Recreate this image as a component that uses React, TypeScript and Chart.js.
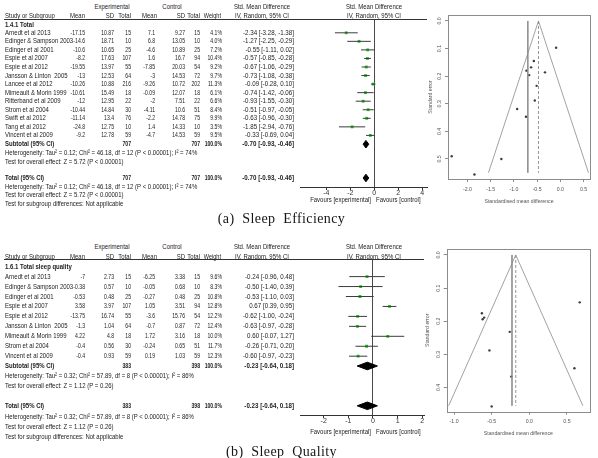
import React, { useEffect, useRef } from "react";
import { Chart, registerables } from "chart.js";

Chart.register(...registerables);

const SANS = '"Liberation Sans", Arial, Helvetica, sans-serif';
const SERIF = '"Liberation Serif", "Times New Roman", Times, serif';
const Z95 = 1.96;

/* ---------- (a) Sleep efficiency, subgroup 1.4.1 Total ---------- */
const effStudies = [
  "Arnedt et al 2013", "Edinger & Sampson 2003", "Edinger et al 2001", "Espie et al 2007",
  "Espie et al 2012", "Jansson & Linton  2005", "Lancee et al 2012", "Mimeault & Morin 1999",
  "Ritterband et al 2009", "Strom et al 2004", "Swift et al 2012", "Tang et al 2012", "Vincent et al 2009",
];
const effExpMean = [-17.15, -14.6, -10.6, -8.2, -19.55, -13, -10.26, -10.61, -12, -10.44, -11.14, -24.8, -9.2];
const effExpSD = [10.87, 18.71, 10.65, 17.63, 13.97, 12.53, 10.88, 15.49, 12.95, 14.84, 13.4, 12.75, 12.78];
const effExpN = [15, 10, 25, 107, 55, 64, 216, 18, 22, 30, 76, 10, 59];
const effCtlMean = [7.1, 6.8, -4.6, 1.6, -7.85, -3, -9.26, -0.09, -2, -4.11, -2.2, 1.4, -4.7];
const effCtlSD = [9.27, 13.05, 10.89, 16.7, 20.03, 14.53, 10.72, 12.07, 7.51, 10.6, 14.78, 14.33, 14.53];
const effCtlN = [15, 10, 25, 94, 54, 72, 202, 18, 22, 51, 75, 10, 59];
const effWeight = [4.1, 4.0, 7.2, 10.4, 9.2, 9.7, 11.3, 6.1, 6.6, 8.4, 9.9, 3.5, 9.5];
const effSMD = [-2.34, -1.27, -0.55, -0.57, -0.67, -0.73, -0.09, -0.74, -0.93, -0.51, -0.63, -1.85, -0.33];
const effLower = [-3.28, -2.25, -1.11, -0.85, -1.06, -1.08, -0.28, -1.42, -1.55, -0.97, -0.96, -2.94, -0.69];
const effUpper = [-1.38, -0.29, 0.02, -0.28, -0.29, -0.38, 0.1, -0.06, -0.3, -0.05, -0.3, -0.76, 0.04];
const effSE = [0.49, 0.5, 0.288, 0.145, 0.196, 0.18, 0.097, 0.347, 0.319, 0.235, 0.168, 0.556, 0.186];
const effPooled = -0.7;
const effPooledLower = -0.93;
const effPooledUpper = -0.46;
const effTotalExp = 707;
const effTotalCtl = 707;
const effFunnelCentre = -0.47;
const effHet = "Heterogeneity: Tau\u00b2 = 0.12; Chi\u00b2 = 46.18, df = 12 (P < 0.00001); I\u00b2 = 74%";
const effOverall = "Test for overall effect: Z = 5.72 (P < 0.00001)";
const effForestTicks = [-4, -2, 0, 2, 4];
const effFunnelXTicks = [-2, -1.5, -1, -0.5, 0, 0.5];
const effFunnelYTicks = [0, 0.1, 0.2, 0.3, 0.4, 0.5];

/* ---------- (b) Sleep quality, subgroup 1.6.1 Total sleep quality ---------- */
const qualStudies = [
  "Arnedt et al 2013", "Edinger & Sampson 2003", "Edinger et al 2001", "Espie et al 2007",
  "Espie et al 2012", "Jansson & Linton  2005", "Mimeault & Morin 1999", "Strom et al 2004", "Vincent et al 2009",
];
const qualExpMean = [-7, -0.38, -0.53, 3.58, -13.75, -1.3, 4.22, -0.4, -0.4];
const qualExpSD = [2.73, 0.57, 0.48, 3.97, 16.74, 1.04, 4.8, 0.56, 0.93];
const qualExpN = [15, 10, 25, 107, 55, 64, 18, 30, 59];
const qualCtlMean = [-6.25, -0.05, -0.27, 1.05, -3.6, -0.7, 1.72, -0.24, 0.19];
const qualCtlSD = [3.38, 0.68, 0.48, 3.51, 15.76, 0.87, 3.16, 0.65, 1.03];
const qualCtlN = [15, 10, 25, 94, 54, 72, 18, 51, 59];
const qualWeight = [9.6, 8.3, 10.8, 12.8, 12.2, 12.4, 10.0, 11.7, 12.3];
const qualSMD = [-0.24, -0.5, -0.53, 0.67, -0.62, -0.63, 0.6, -0.26, -0.6];
const qualLower = [-0.96, -1.4, -1.1, 0.39, -1.0, -0.97, -0.07, -0.71, -0.97];
const qualUpper = [0.48, 0.39, 0.03, 0.95, -0.24, -0.28, 1.27, 0.2, -0.23];
const qualSE = [0.367, 0.457, 0.288, 0.143, 0.194, 0.176, 0.342, 0.232, 0.189];
const qualPooled = -0.23;
const qualPooledLower = -0.64;
const qualPooledUpper = 0.18;
const qualTotalExp = 383;
const qualTotalCtl = 398;
const qualFunnelCentre = -0.18;
const qualHet = "Heterogeneity: Tau\u00b2 = 0.32; Chi\u00b2 = 57.89, df = 8 (P < 0.00001); I\u00b2 = 86%";
const qualOverall = "Test for overall effect: Z = 1.12 (P = 0.26)";
const qualForestTicks = [-2, -1, 0, 1, 2];
const qualFunnelXTicks = [-1, -0.5, 0, 0.5];
const qualFunnelYTicks = [0, 0.1, 0.2, 0.3, 0.4];

const subgroupNote = "Test for subgroup differences: Not applicable";

type StudyData = {
  group: string; caption: string;
  studies: string[]; expMean: number[]; expSD: number[]; expN: number[];
  ctlMean: number[]; ctlSD: number[]; ctlN: number[]; weight: number[];
  smd: number[]; lower: number[]; upper: number[]; se: number[];
  pooled: number; pooledLower: number; pooledUpper: number; totalExp: number; totalCtl: number;
  het: string; overall: string; forestTicks: number[];
  funnelCentre: number; funnelXTicks: number[]; funnelYTicks: number[];
};

const efficiency: StudyData = {
  group: "1.4.1 Total", caption: "(a)  Sleep  Efficiency",
  studies: effStudies, expMean: effExpMean, expSD: effExpSD, expN: effExpN,
  ctlMean: effCtlMean, ctlSD: effCtlSD, ctlN: effCtlN, weight: effWeight,
  smd: effSMD, lower: effLower, upper: effUpper, se: effSE,
  pooled: effPooled, pooledLower: effPooledLower, pooledUpper: effPooledUpper,
  totalExp: effTotalExp, totalCtl: effTotalCtl, het: effHet, overall: effOverall,
  forestTicks: effForestTicks, funnelCentre: effFunnelCentre,
  funnelXTicks: effFunnelXTicks, funnelYTicks: effFunnelYTicks,
};

const quality: StudyData = {
  group: "1.6.1 Total sleep quality", caption: "(b)  Sleep  Quality",
  studies: qualStudies, expMean: qualExpMean, expSD: qualExpSD, expN: qualExpN,
  ctlMean: qualCtlMean, ctlSD: qualCtlSD, ctlN: qualCtlN, weight: qualWeight,
  smd: qualSMD, lower: qualLower, upper: qualUpper, se: qualSE,
  pooled: qualPooled, pooledLower: qualPooledLower, pooledUpper: qualPooledUpper,
  totalExp: qualTotalExp, totalCtl: qualTotalCtl, het: qualHet, overall: qualOverall,
  forestTicks: qualForestTicks, funnelCentre: qualFunnelCentre,
  funnelXTicks: qualFunnelXTicks, funnelYTicks: qualFunnelYTicks,
};

/* ---------- page geometry ---------- */
type Box = { left: number; top: number; right: number; bottom: number };
type Geometry = {
  head1: number; head2: number; rule: number; group: number; row0: number; pitch: number;
  subtotal: number; het: number; z: number; total: number; het2: number; z2: number; sub: number;
  axis: number; fav: number; caption: number;
  forestTop: number; forestH: number; forestRight: number; forestMin: number; forestMax: number;
  funnelTop: number; funnelArea: Box; funnelX: [number, number]; funnelY: [number, number];
  funnelSEMax: number; yTitlePad: number;
};

const geoA: Geometry = {
  head1: 7.4, head2: 15.8, rule: 19, group: 24.5, row0: 32.8, pitch: 8.55,
  subtotal: 144.2, het: 153, z: 161.6, total: 178, het2: 186.7, z2: 195.3, sub: 204,
  axis: 187, fav: 200, caption: 218.5,
  forestTop: 0, forestH: 210, forestRight: 427, forestMin: -6.19, forestMax: 4.39,
  funnelTop: 0, funnelArea: { left: 448, top: 15, right: 590, bottom: 179 },
  funnelX: [-2.42, 0.64], funnelY: [-0.0217, 0.5725], funnelSEMax: 0.55, yTitlePad: 7.9,
};

const geoB: Geometry = {
  head1: 247.3, head2: 257, rule: 259.7, group: 267.3, row0: 276.6, pitch: 9.95,
  subtotal: 366, het: 375.6, z: 386.3, total: 405.8, het2: 416.8, z2: 427.3, sub: 437.3,
  axis: 415, fav: 432.3, caption: 452,
  forestTop: 240, forestH: 200, forestRight: 424, forestMin: -2.96, forestMax: 2.07,
  funnelTop: 232, funnelArea: { left: 446.7, top: 249, right: 590, bottom: 411.7 },
  funnelX: [-1.098, 0.807], funnelY: [-0.018, 0.473], funnelSEMax: 0.455, yTitlePad: 4.9,
};

const COL = {
  name: 5, expMean: 84.5, expSD: 114, expN: 131, ctlMean: 155, ctlMeanHead: 157, ctlSD: 185, ctlN: 200,
  weight: 221.5, ci: 293.5, expHead: 112, ctlHead: 172, smdHead: 262, forestHead: 374,
};
const TEXT_SX = 0.82;
const NUM_SX = 0.7;
const CI_SX = 0.85;
const FOREST_LEFT = 290;
const FOREST_W = 150;
const FOREST_AREA_LEFT = 300;
const FUNNEL_LEFT = 420;
const FUNNEL_W = 178;
const FUNNEL_H = 212;

/* ---------- small text helper ---------- */
function Txt({ x, y, align = "left", bold = false, sx = TEXT_SX, children }: {
  x: number; y: number; align?: "left" | "right" | "center"; bold?: boolean; sx?: number; children: React.ReactNode;
}) {
  const shift = align === "right" ? "translateX(-100%) " : align === "center" ? "translateX(-50%) " : "";
  const origin = align === "right" ? "right center" : align === "center" ? "center center" : "left center";
  return (
    <div
      style={{
        position: "absolute", left: x, top: y - 5, height: 10, lineHeight: "10px",
        fontFamily: SANS, fontSize: 7.3, fontWeight: bold ? 700 : 400, color: "#1c1c1c",
        whiteSpace: "pre", transform: `${shift}scaleX(${sx})`, transformOrigin: origin,
      }}
    >
      {children}
    </div>
  );
}

const ci = (e: number, l: number, u: number) => `${e.toFixed(2)} [${l.toFixed(2)}, ${u.toFixed(2)}]`;

function MetaTable({ d, g }: { d: StudyData; g: Geometry }) {
  const rows = d.studies.map((name, i) => {
    const y = g.row0 + i * g.pitch;
    return (
      <React.Fragment key={name}>
        <Txt x={COL.name} y={y}>{name}</Txt>
        <Txt x={COL.expMean} y={y} align="right" sx={NUM_SX}>{String(d.expMean[i])}</Txt>
        <Txt x={COL.expSD} y={y} align="right" sx={NUM_SX}>{String(d.expSD[i])}</Txt>
        <Txt x={COL.expN} y={y} align="right" sx={NUM_SX}>{String(d.expN[i])}</Txt>
        <Txt x={COL.ctlMean} y={y} align="right" sx={NUM_SX}>{String(d.ctlMean[i])}</Txt>
        <Txt x={COL.ctlSD} y={y} align="right" sx={NUM_SX}>{String(d.ctlSD[i])}</Txt>
        <Txt x={COL.ctlN} y={y} align="right" sx={NUM_SX}>{String(d.ctlN[i])}</Txt>
        <Txt x={COL.weight} y={y} align="right" sx={NUM_SX}>{d.weight[i].toFixed(1) + "%"}</Txt>
        <Txt x={COL.ci} y={y} align="right" sx={CI_SX}>{ci(d.smd[i], d.lower[i], d.upper[i])}</Txt>
      </React.Fragment>
    );
  });
  const pooledRow = (label: string, y: number) => (
    <>
      <Txt x={COL.name} y={y} bold>{label}</Txt>
      <Txt x={COL.expN} y={y} align="right" bold sx={NUM_SX}>{String(d.totalExp)}</Txt>
      <Txt x={COL.ctlN} y={y} align="right" bold sx={NUM_SX}>{String(d.totalCtl)}</Txt>
      <Txt x={COL.weight} y={y} align="right" bold sx={NUM_SX}>100.0%</Txt>
      <Txt x={COL.ci} y={y} align="right" bold sx={CI_SX}>{ci(d.pooled, d.pooledLower, d.pooledUpper)}</Txt>
    </>
  );
  return (
    <>
      <Txt x={COL.expHead} y={g.head1} align="center">Experimental</Txt>
      <Txt x={COL.ctlHead} y={g.head1} align="center">Control</Txt>
      <Txt x={COL.smdHead} y={g.head1} align="center">Std. Mean Difference</Txt>
      <Txt x={COL.forestHead} y={g.head1} align="center">Std. Mean Difference</Txt>
      <Txt x={COL.name} y={g.head2}>Study or Subgroup</Txt>
      <Txt x={COL.expMean} y={g.head2} align="right">Mean</Txt>
      <Txt x={COL.expSD} y={g.head2} align="right">SD</Txt>
      <Txt x={COL.expN} y={g.head2} align="right">Total</Txt>
      <Txt x={COL.ctlMeanHead} y={g.head2} align="right">Mean</Txt>
      <Txt x={COL.ctlSD} y={g.head2} align="right">SD</Txt>
      <Txt x={COL.ctlN} y={g.head2} align="right">Total</Txt>
      <Txt x={COL.weight - 1} y={g.head2} align="right" sx={0.76}>Weight</Txt>
      <Txt x={COL.smdHead} y={g.head2} align="center">IV, Random, 95% CI</Txt>
      <Txt x={COL.forestHead} y={g.head2} align="center">IV, Random, 95% CI</Txt>
      <div style={{ position: "absolute", left: 4, top: g.rule - 0.5, width: g.forestRight - 4, height: 1, background: "#333" }} />
      <Txt x={COL.name} y={g.group} bold>{d.group}</Txt>
      {rows}
      {pooledRow("Subtotal (95% CI)", g.subtotal)}
      <Txt x={COL.name} y={g.het}>{d.het}</Txt>
      <Txt x={COL.name} y={g.z}>{d.overall}</Txt>
      {pooledRow("Total (95% CI)", g.total)}
      <Txt x={COL.name} y={g.het2}>{d.het}</Txt>
      <Txt x={COL.name} y={g.z2}>{d.overall}</Txt>
      <Txt x={COL.name} y={g.sub}>{subgroupNote}</Txt>
      <Txt x={370.5} y={g.fav} align="right">Favours [experimental]</Txt>
      <Txt x={376} y={g.fav}>Favours [control]</Txt>
      <div
        style={{
          position: "absolute", left: 281.5, top: g.caption - 9, height: 18, lineHeight: "18px",
          transform: "translateX(-50%)", fontFamily: SERIF, fontSize: 14, letterSpacing: 0.4,
          whiteSpace: "pre", color: "#151515",
        }}
      >
        {d.caption}
      </div>
    </>
  );
}

/* ---------- forest plot ---------- */
function ForestPlot({ d, g }: { d: StudyData; g: Geometry }) {
  const ref = useRef<HTMLCanvasElement>(null);
  useEffect(() => {
    const rowY = d.studies.map((_, i) => g.row0 + i * g.pitch);
    const ciSegments: any[] = [];
    rowY.forEach((y, i) => {
      ciSegments.push({ x: d.lower[i], y }, { x: d.upper[i], y }, { x: null, y: null });
    });
    const half = 3.8;
    const diamond = (y: number) => [
      { x: d.pooledLower, y }, { x: d.pooled, y: y - half }, { x: d.pooledUpper, y },
      { x: d.pooled, y: y + half }, { x: d.pooledLower, y },
    ];
    const chart = new Chart(ref.current as HTMLCanvasElement, {
      type: "scatter",
      data: {
        datasets: [
          { data: ciSegments, showLine: true, spanGaps: false, borderColor: "#3c3c3c", borderWidth: 1, pointRadius: 0 },
          {
            data: rowY.map((y, i) => ({ x: d.smd[i], y })), pointStyle: "rect", pointRadius: 2,
            backgroundColor: "#1fc21f", borderColor: "#1fc21f", borderWidth: 0,
          },
          ...[g.subtotal, g.total].map((y) => ({
            data: diamond(y), showLine: true, fill: "shape", backgroundColor: "#000",
            borderColor: "#000", borderWidth: 1, pointRadius: 0,
          })),
        ],
      } as any,
      options: {
        animation: false, responsive: false, events: [],
        layout: {
          padding: {
            left: FOREST_AREA_LEFT - FOREST_LEFT, right: FOREST_LEFT + FOREST_W - g.forestRight,
            top: g.rule - g.forestTop, bottom: 0,
          },
        },
        plugins: { legend: { display: false }, tooltip: { enabled: false } },
        scales: {
          x: {
            type: "linear", min: g.forestMin, max: g.forestMax,
            afterBuildTicks: (s: any) => { s.ticks = d.forestTicks.map((v) => ({ value: v })); },
            afterFit: (s: any) => { s.height = g.forestTop + g.forestH - g.axis; },
            grid: {
              color: (c: any) => (c.tick && c.tick.value === 0 ? "#4a4a4a" : "rgba(0,0,0,0)"),
              tickColor: "#333", tickLength: 3, lineWidth: 1,
            },
            border: { display: true, color: "#333", width: 1 },
            ticks: { color: "#333", font: { family: SANS, size: 7 }, padding: -1, maxRotation: 0, autoSkip: false },
          },
          y: { type: "linear", display: false, min: g.rule, max: g.axis, reverse: true },
        },
      } as any,
    });
    return () => chart.destroy();
  }, [d, g]);
  return (
    <canvas
      ref={ref} width={FOREST_W} height={g.forestH}
      style={{ position: "absolute", left: FOREST_LEFT, top: g.forestTop, width: FOREST_W, height: g.forestH }}
    />
  );
}

/* ---------- funnel plot ---------- */
const framePlugin = {
  id: "frame",
  afterDraw(chart: any) {
    const { ctx, chartArea: a } = chart;
    ctx.save();
    ctx.strokeStyle = "#8c8c8c";
    ctx.lineWidth = 1;
    ctx.strokeRect(Math.round(a.left) + 0.5, Math.round(a.top) + 0.5, Math.round(a.right - a.left), Math.round(a.bottom - a.top));
    ctx.restore();
  },
};

function FunnelPlot({ d, g }: { d: StudyData; g: Geometry }) {
  const ref = useRef<HTMLCanvasElement>(null);
  useEffect(() => {
    const a = g.funnelArea;
    const seMax = g.funnelSEMax;
    const c = d.funnelCentre;
    const axisFont = { family: SANS, size: 5.2 };
    const chart = new Chart(ref.current as HTMLCanvasElement, {
      type: "scatter",
      data: {
        datasets: [
          {
            data: [{ x: c - Z95 * seMax, y: seMax }, { x: c, y: 0 }, { x: c + Z95 * seMax, y: seMax }],
            showLine: true, borderColor: "#8a8a8a", borderWidth: 0.8, pointRadius: 0,
          },
          {
            data: [{ x: c, y: 0 }, { x: c, y: seMax }], showLine: true, borderDash: [3, 2],
            borderColor: "#7a7a7a", borderWidth: 0.8, pointRadius: 0,
          },
          {
            data: [{ x: d.pooled, y: 0 }, { x: d.pooled, y: seMax }], showLine: true,
            borderColor: "#8a8a8a", borderWidth: 0.8, pointRadius: 0,
          },
          {
            data: d.smd.map((x, i) => ({ x, y: d.se[i] })), pointRadius: 1.2,
            backgroundColor: "#3a3a3a", borderColor: "#3a3a3a", borderWidth: 0,
          },
        ],
      } as any,
      options: {
        animation: false, responsive: false, events: [],
        layout: { padding: { left: 0, right: FUNNEL_LEFT + FUNNEL_W - a.right, top: a.top - g.funnelTop, bottom: 0 } },
        plugins: { legend: { display: false }, tooltip: { enabled: false } },
        scales: {
          x: {
            type: "linear", min: g.funnelX[0], max: g.funnelX[1],
            afterBuildTicks: (s: any) => { s.ticks = d.funnelXTicks.map((v) => ({ value: v })); },
            afterFit: (s: any) => { s.height = g.funnelTop + FUNNEL_H - a.bottom; },
            grid: { drawOnChartArea: false, tickLength: 3, tickColor: "#8c8c8c" },
            border: { display: false },
            ticks: { font: axisFont, color: "#555", padding: 4.2, maxRotation: 0, autoSkip: false, callback: (v: any) => Number(v).toFixed(1) },
            title: { display: true, text: "Standardised mean difference", font: axisFont, color: "#555", padding: { top: 0, bottom: 6.9 } },
          },
          y: {
            type: "linear", min: g.funnelY[0], max: g.funnelY[1], reverse: true,
            afterBuildTicks: (s: any) => { s.ticks = d.funnelYTicks.map((v) => ({ value: v })); },
            afterFit: (s: any) => { s.width = a.left - FUNNEL_LEFT; },
            grid: { drawOnChartArea: false, tickLength: 3, tickColor: "#8c8c8c" },
            border: { display: false },
            ticks: {
              font: axisFont, color: "#555", padding: 1.4, minRotation: 90, maxRotation: 90,
              crossAlign: "center", autoSkip: false, callback: (v: any) => Number(v).toFixed(1),
            },
            title: { display: true, text: "Standard error", font: axisFont, color: "#555", padding: { top: g.yTitlePad, bottom: 0 } },
          },
        },
      } as any,
      plugins: [framePlugin],
    });
    return () => chart.destroy();
  }, [d, g]);
  return (
    <canvas
      ref={ref} width={FUNNEL_W} height={FUNNEL_H}
      style={{ position: "absolute", left: FUNNEL_LEFT, top: g.funnelTop, width: FUNNEL_W, height: FUNNEL_H }}
    />
  );
}

function Panel({ d, g }: { d: StudyData; g: Geometry }) {
  return (
    <>
      <ForestPlot d={d} g={g} />
      <MetaTable d={d} g={g} />
      <FunnelPlot d={d} g={g} />
    </>
  );
}

export default function App() {
  return (
    <div style={{ position: "absolute", left: 0, top: 0, width: 598, height: 458, background: "#fff", overflow: "hidden" }}>
      <Panel d={efficiency} g={geoA} />
      <Panel d={quality} g={geoB} />
    </div>
  );
}
